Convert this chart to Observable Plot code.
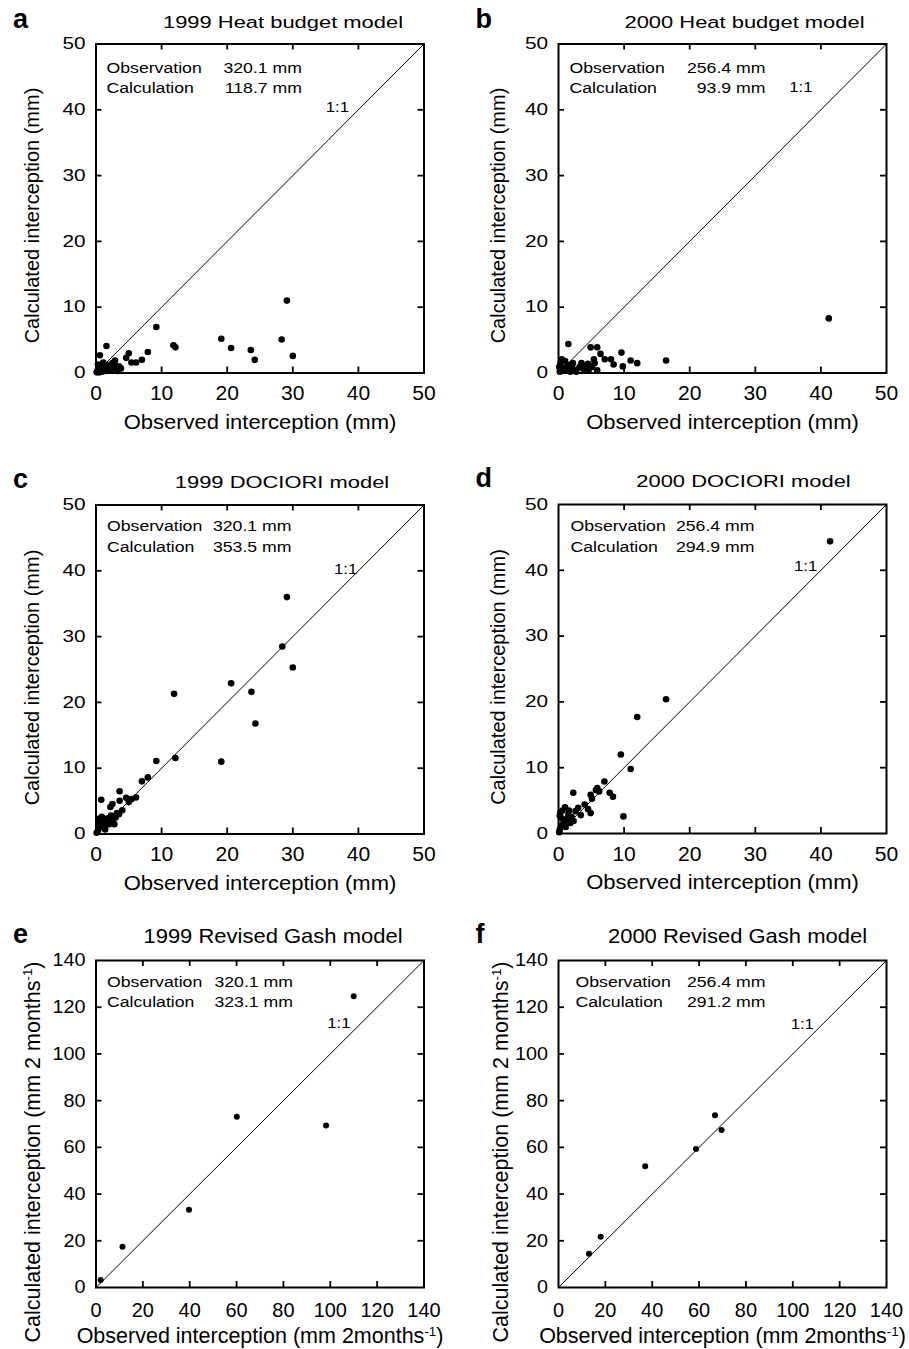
<!DOCTYPE html>
<html>
<head>
<meta charset="utf-8">
<script src="https://cdn.jsdelivr.net/npm/d3@7"></script>
<script src="https://cdn.jsdelivr.net/npm/@observablehq/plot@0.6"></script>
<style>
  body { margin: 0; background: #fff; }
  #fig { position: relative; width: 909px; height: 1349px; background: #fff; overflow: hidden; }
  #fig svg { position: absolute; }
</style>
</head>
<body>
<div id="fig"></div>
<script>
// ---------------- DATA ----------------
const panelLetters = ["a", "b", "c", "d", "e", "f"];
const panelTitles = [
  "1999 Heat budget model", "2000 Heat budget model",
  "1999 DOCIORI model", "2000 DOCIORI model",
  "1999 Revised Gash model", "2000 Revised Gash model"
];
const observationTotals = ["320.1 mm", "256.4 mm", "320.1 mm", "256.4 mm", "320.1 mm", "256.4 mm"];
const calculationTotals = ["118.7 mm", "93.9 mm", "353.5 mm", "294.9 mm", "323.1 mm", "291.2 mm"];
const ticksDaily = [0, 10, 20, 30, 40, 50];
const ticksBimonthly = [0, 20, 40, 60, 80, 100, 120, 140];
const xTitleDaily = "Observed interception (mm)";
const yTitleDaily = "Calculated interception (mm)";
const xTitleBimonthly = "Observed interception (mm 2months⁻¹)";
const yTitleBimonthly = "Calculated interception (mm 2 months⁻¹)";
const observationLabel = "Observation";
const calculationLabel = "Calculation";
const oneToOneLabel = "1:1";

// a: 1999 Heat budget model
const heat1999Obs  = [29.1, 9.2, 19.1, 28.3, 11.8, 12.1, 20.6, 23.6, 24.2, 30.0, 1.6, 0.6, 7.9, 5.0, 4.6, 5.4, 6.1, 7.0, 2.9, 2.5, 1.1, 3.5, 3.8, 0.2, 0.4, 0.8, 1.2, 1.5, 0.3, 2.0, 2.2, 1.8, 2.6, 3.1, 0.9, 0.1, 0.5, 1.4, 2.8, 0.7, 1.6, 3.3, 0.6];
const heat1999Calc = [11.0, 7.0, 5.2, 5.1, 4.2, 3.9, 3.8, 3.5, 2.0, 2.6, 4.1, 2.7, 3.2, 3.0, 2.3, 1.6, 1.6, 2.0, 1.9, 1.5, 1.6, 1.0, 0.7, 0.3, 0.8, 0.5, 1.0, 0.6, 1.3, 0.9, 0.4, 1.2, 0.8, 0.5, 0.2, 0.1, 0.1, 0.3, 1.1, 1.2, 1.1, 0.3, 0.6];
// b: 2000 Heat budget model
const heat2000Obs  = [41.2, 1.5, 16.4, 4.9, 5.9, 6.4, 5.4, 7.05, 8.0, 9.6, 8.4, 11.0, 12.0, 9.8, 3.5, 4.0, 4.5, 3.8, 4.6, 5.1, 5.9, 5.5, 3.2, 0.5, 1.0, 0.3, 1.5, 2.0, 0.8, 1.2, 2.5, 0.2, 1.8, 0.6, 2.2, 0.1, 1.4, 2.7];
const heat2000Calc = [8.3, 4.4, 1.9, 3.9, 3.9, 2.9, 2.1, 2.1, 2.1, 3.1, 1.3, 1.9, 1.5, 1.0, 1.5, 1.1, 1.4, 0.6, 0.5, 0.9, 0.4, 1.5, 0.9, 2.1, 1.8, 1.4, 1.2, 1.0, 0.8, 0.4, 0.5, 0.2, 0.2, 0.5, 1.5, 0.9, 0.9, 0.2];
// c: 1999 DOCIORI model
const dociori1999Obs  = [29.1, 28.4, 30.0, 20.6, 23.7, 11.9, 24.3, 9.2, 12.1, 19.1, 7.0, 7.9, 3.6, 0.8, 2.5, 2.2, 3.6, 4.6, 5.4, 6.1, 5.0, 3.5, 3.0, 2.5, 2.0, 1.5, 1.0, 0.5, 0.6, 0.3, 0.1, 1.2, 1.8, 2.8, 0.9, 1.4, 0.4, 2.3, 3.2, 4.0];
const dociori1999Calc = [36.0, 28.5, 25.3, 22.9, 21.6, 21.3, 16.8, 11.1, 11.55, 11.0, 8.0, 8.6, 6.5, 5.2, 4.55, 4.1, 5.05, 5.5, 5.3, 5.55, 4.85, 3.0, 2.5, 2.1, 1.5, 1.8, 2.0, 1.8, 1.0, 0.5, 0.2, 1.2, 2.4, 1.5, 2.6, 0.7, 2.3, 2.8, 3.2, 3.6];
// d: 2000 DOCIORI model
const dociori2000Obs  = [41.4, 16.4, 12.0, 9.5, 11.0, 7.0, 5.9, 5.7, 6.2, 4.9, 5.1, 7.8, 8.3, 2.25, 4.0, 4.5, 4.9, 3.4, 9.9, 1.0, 0.6, 0.3, 0.2, 1.5, 2.0, 1.3, 0.8, 0.4, 0.2, 2.6, 1.8, 1.1, 0.5, 2.3, 1.6, 0.1, 3.0];
const dociori2000Calc = [44.4, 20.4, 17.7, 12.0, 9.8, 7.9, 6.9, 6.6, 6.4, 5.9, 5.3, 6.2, 5.6, 6.2, 4.4, 3.7, 3.1, 2.8, 2.6, 4.0, 3.5, 3.2, 2.7, 2.9, 2.5, 2.2, 1.7, 1.2, 0.6, 3.4, 1.6, 1.0, 2.3, 1.9, 3.5, 0.2, 3.9];
// e: 1999 Revised Gash model
const gash1999Obs  = [2.0, 11.3, 39.7, 60.1, 98.2, 110.0];
const gash1999Calc = [3.2, 17.4, 33.3, 73.1, 69.4, 124.7];
// f: 2000 Revised Gash model
const gash2000Obs  = [13.0, 18.0, 37.0, 58.7, 66.8, 69.6];
const gash2000Calc = [14.5, 21.7, 51.9, 59.3, 73.7, 67.4];

// ---------------- LAYOUT / STYLE ----------------
const FONT = "'Liberation Sans', Arial, Helvetica, sans-serif";

const layout = [
  {left: 0,   top: 0,   width: 455, height: 450, ml: 95.5, mr: 31.5, mt: 43.5, mb: 77.5},
  {left: 455, top: 0,   width: 454, height: 450, ml: 103,  mr: 23,   mt: 43.5, mb: 77.5},
  {left: 0,   top: 450, width: 455, height: 450, ml: 95.5, mr: 31.5, mt: 54.5, mb: 66.5},
  {left: 455, top: 450, width: 454, height: 450, ml: 103,  mr: 23,   mt: 54,   mb: 67},
  {left: 0,   top: 900, width: 455, height: 449, ml: 95.5, mr: 31.5, mt: 60,   mb: 62},
  {left: 455, top: 900, width: 454, height: 449, ml: 103,  mr: 23,   mt: 60,   mb: 62}
];

// annotation offsets (pixels relative to the frame)
const annot = [
  {lx: 10.5, vx: 206,   b1: 28.5, b2: 48.5, oneDx: -75,   oneB: 68.2, titleDx: 23, titleB: -16.5, yTitleDx: -63.5, yTitleDy: 7},
  {lx: 11,   vx: 207,   b1: 28.5, b2: 48.5, oneDx: -74,   oneB: 47.5, titleDx: 22, titleB: -16.5, yTitleDx: -60,   yTitleDy: 7},
  {lx: 11,   vx: 195.5, b1: 25.5, b2: 46.5, oneDx: -66.8, oneB: 68.8, titleDx: 22, titleB: -17.5, yTitleDx: -63,   yTitleDy: 8},
  {lx: 12,   vx: 196,   b1: 26,   b2: 47,   oneDx: -69.3, oneB: 66.5, titleDx: 21, titleB: -17.5, yTitleDx: -60,   yTitleDy: 8},
  {lx: 11,   vx: 197,   b1: 26.7, b2: 46.7, oneDx: -73.5, oneB: 67.3, titleDx: 13, titleB: -18,   yTitleDx: -63,   yTitleDy: 28},
  {lx: 17,   vx: 207,   b1: 26.7, b2: 46.7, oneDx: -72.7, oneB: 68.3, titleDx: 15, titleB: -18,   yTitleDx: -57,   yTitleDy: 28}
];

const styleDaily = {
  r: 3.3, xTickF: 19.5, xTickSx: 1.08, xTickDy: 21, yTickF: 16.5, yTickSx: 1.26, yTickGap: 10.5,
  xTitleF: 20, xTitleSx: 1.1, xTitleDy: 49.5, yTitleF: 20, yTitleSx: 1.0,
  titleF: 17, titleSx: 1.29, annF: 14.5, annSx: 1.22, oneF: 14.5, oneSx: 1.15, letterF: 27
};
const styleBimonthly = {
  r: 3.0, xTickF: 21, xTickSx: 0.95, xTickDy: 23, yTickF: 18.5, yTickSx: 1.07, yTickGap: 10.5,
  xTitleF: 21.5, xTitleSx: 1.0, xTitleDy: 49, yTitleF: 21.5, yTitleSx: 1.0,
  titleF: 20, titleSx: 1.1, annF: 14.5, annSx: 1.22, oneF: 14.5, oneSx: 1.15, letterF: 27
};

const panels = [
  {obs: heat1999Obs, calc: heat1999Calc, ticks: ticksDaily, xTitle: xTitleDaily, yTitle: yTitleDaily, style: styleDaily},
  {obs: heat2000Obs, calc: heat2000Calc, ticks: ticksDaily, xTitle: xTitleDaily, yTitle: yTitleDaily, style: styleDaily},
  {obs: dociori1999Obs, calc: dociori1999Calc, ticks: ticksDaily, xTitle: xTitleDaily, yTitle: yTitleDaily, style: styleDaily},
  {obs: dociori2000Obs, calc: dociori2000Calc, ticks: ticksDaily, xTitle: xTitleDaily, yTitle: yTitleDaily, style: styleDaily},
  {obs: gash1999Obs, calc: gash1999Calc, ticks: ticksBimonthly, xTitle: xTitleBimonthly, yTitle: yTitleBimonthly, style: styleBimonthly},
  {obs: gash2000Obs, calc: gash2000Calc, ticks: ticksBimonthly, xTitle: xTitleBimonthly, yTitle: yTitleBimonthly, style: styleBimonthly}
];

// ---------------- HELPERS ----------------
function stretchText(t, sx) {
  if (sx === 1) return;
  const x = +t.getAttribute("x") || 0, y = +t.getAttribute("y") || 0;
  const tr = t.getAttribute("transform") || "";
  t.setAttribute("transform", `${tr} translate(${x},${y}) scale(${sx},1) translate(${-x},${-y})`);
}
function superscriptify(t, fontSize) {
  const s = t.textContent;
  const k = s.indexOf("⁻¹");
  if (k < 0) return;
  const before = s.slice(0, k), after = s.slice(k + 2);
  while (t.firstChild) t.removeChild(t.firstChild);
  t.appendChild(document.createTextNode(before));
  const ns = "http://www.w3.org/2000/svg";
  const raise = fontSize * 0.36;
  const sup = document.createElementNS(ns, "tspan");
  sup.setAttribute("font-size", (fontSize * 0.62).toFixed(2));
  sup.setAttribute("dy", (-raise).toFixed(2));
  sup.textContent = "-1";
  t.appendChild(sup);
  const rest = document.createElementNS(ns, "tspan");
  rest.setAttribute("dy", raise.toFixed(2));
  rest.textContent = after;
  t.appendChild(rest);
}

function makePanel(i) {
  const p = panels[i], L = layout[i], A = annot[i], s = p.style;
  const data = p.obs.map((o, j) => ({obs: o, calc: p.calc[j]}));
  const dmax = p.ticks[p.ticks.length - 1];
  const inner = p.ticks.slice(1, -1);
  const fw = L.width - L.ml - L.mr, fh = L.height - L.mt - L.mb;
  const tickPx = 6;
  const tY = dmax * tickPx / fh, tX = dmax * tickPx / fw;
  const mid = (F) => 0.32 * F; // baseline offset for lineAnchor "middle"
  const tickStyle = {stroke: "black", strokeWidth: 1.8};
  const txt = (F, extra) => ({lineAnchor: "middle", fontSize: F, fill: "black", ...extra});

  // text marks, in a fixed order (used for per-kind horizontal scaling afterwards)
  const textMarks = [
    ["xtick", Plot.text(p.ticks, {x: d => d, text: d => String(d), ...txt(s.xTickF, {frameAnchor: "bottom", dy: s.xTickDy, textAnchor: "middle"})})],
    ["ytick", Plot.text(p.ticks, {y: d => d, text: d => String(d), ...txt(s.yTickF, {frameAnchor: "left", dx: -s.yTickGap, textAnchor: "end"})})],
    ["xtitle", Plot.text([p.xTitle], {text: d => d, ...txt(s.xTitleF, {frameAnchor: "bottom", dy: s.xTitleDy, textAnchor: "middle"})})],
    ["ytitle", Plot.text([p.yTitle], {text: d => d, rotate: -90, ...txt(s.yTitleF, {frameAnchor: "left", dx: A.yTitleDx, dy: A.yTitleDy, textAnchor: "middle"})})],
    ["title", Plot.text([panelTitles[i]], {text: d => d, ...txt(s.titleF, {frameAnchor: "top", dx: A.titleDx, dy: A.titleB - mid(s.titleF), textAnchor: "middle"})})],
    ["letter", Plot.text([panelLetters[i]], {text: d => d, fontWeight: "bold", ...txt(s.letterF, {frameAnchor: "top-left", dx: -83, dy: A.titleB - mid(s.letterF), textAnchor: "start"})})],
    ["ann", Plot.text([observationLabel], {text: d => d, ...txt(s.annF, {frameAnchor: "top-left", dx: A.lx, dy: A.b1 - mid(s.annF), textAnchor: "start"})})],
    ["ann", Plot.text([calculationLabel], {text: d => d, ...txt(s.annF, {frameAnchor: "top-left", dx: A.lx, dy: A.b2 - mid(s.annF), textAnchor: "start"})})],
    ["ann", Plot.text([observationTotals[i]], {text: d => d, ...txt(s.annF, {frameAnchor: "top-left", dx: A.vx, dy: A.b1 - mid(s.annF), textAnchor: "end"})})],
    ["ann", Plot.text([calculationTotals[i]], {text: d => d, ...txt(s.annF, {frameAnchor: "top-left", dx: A.vx, dy: A.b2 - mid(s.annF), textAnchor: "end"})})],
    ["oneone", Plot.text([oneToOneLabel], {text: d => d, ...txt(s.oneF, {frameAnchor: "top-right", dx: A.oneDx, dy: A.oneB - mid(s.oneF), textAnchor: "end"})})]
  ];

  const svg = Plot.plot({
    width: L.width, height: L.height,
    marginLeft: L.ml, marginRight: L.mr, marginTop: L.mt, marginBottom: L.mb,
    x: {domain: [0, dmax], axis: null},
    y: {domain: [0, dmax], axis: null},
    style: {fontFamily: FONT, color: "black", background: "transparent", overflow: "visible"},
    marks: [
      Plot.line([0, dmax], {x: d => d, y: d => d, stroke: "black", strokeWidth: 1}),
      Plot.dot(data, {x: "obs", y: "calc", r: s.r, fill: "black", stroke: "none"}),
      Plot.ruleX(inner, {x: d => d, y1: 0, y2: tY, ...tickStyle}),
      Plot.ruleX(inner, {x: d => d, y1: dmax - tY, y2: dmax, ...tickStyle}),
      Plot.ruleY(inner, {y: d => d, x1: 0, x2: tX, ...tickStyle}),
      Plot.ruleY(inner, {y: d => d, x1: dmax - tX, x2: dmax, ...tickStyle}),
      Plot.frame({stroke: "black", strokeWidth: 2}),
      ...textMarks.map(d => d[1])
    ]
  });

  const sxByKind = {
    xtick: s.xTickSx, ytick: s.yTickSx, xtitle: s.xTitleSx, ytitle: s.yTitleSx,
    title: s.titleSx, letter: 1, ann: s.annSx, oneone: s.oneSx
  };
  const groups = svg.querySelectorAll('g[aria-label="text"]');
  groups.forEach((g, k) => {
    const kind = textMarks[k] ? textMarks[k][0] : null;
    if (!kind) return;
    g.querySelectorAll("text").forEach(t => {
      if (kind === "xtitle") superscriptify(t, s.xTitleF);
      if (kind === "ytitle") superscriptify(t, s.yTitleF);
      stretchText(t, sxByKind[kind]);
    });
  });
  return svg;
}

const fig = document.getElementById("fig");
panels.forEach((p, i) => {
  const svg = makePanel(i);
  const L = layout[i];
  svg.style.position = "absolute";
  svg.style.left = L.left + "px";
  svg.style.top = L.top + "px";
  svg.style.maxWidth = "none";
  fig.appendChild(svg);
});
</script>
</body>
</html>
